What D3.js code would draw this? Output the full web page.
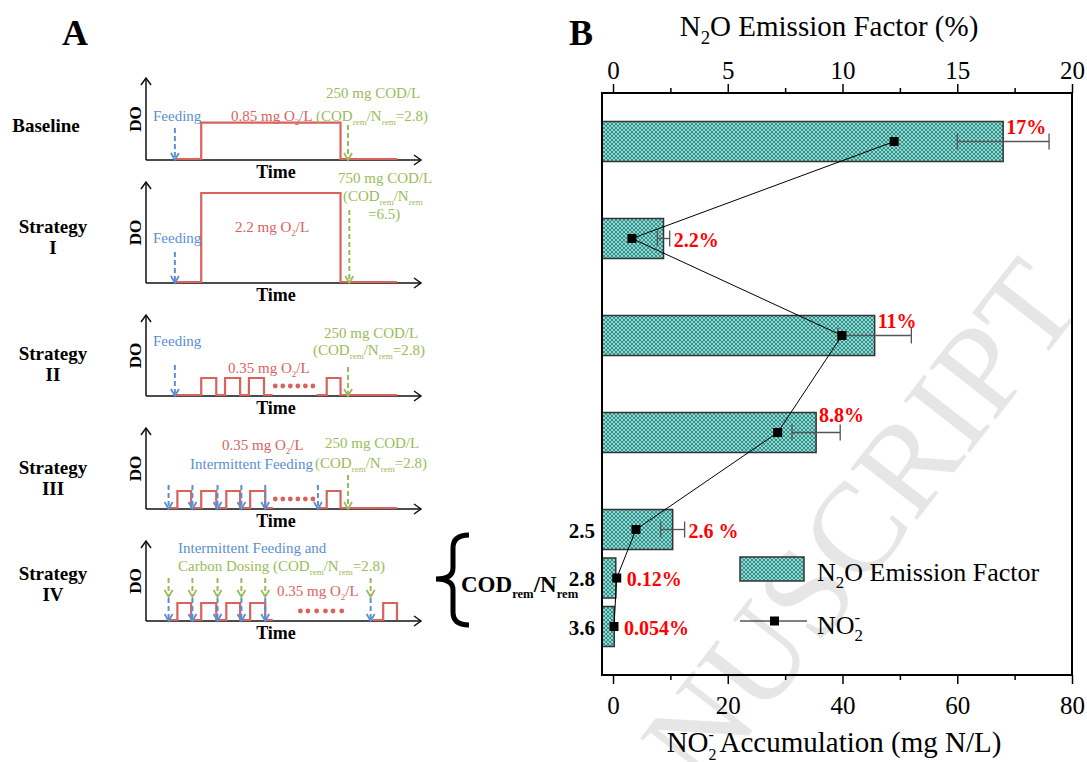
<!DOCTYPE html>
<html>
<head>
<meta charset="utf-8">
<script src="https://cdn.jsdelivr.net/npm/d3@7"></script>
<style>
  body { margin: 0; background: #fff; }
  text { font-family: "Liberation Serif", "Times New Roman", serif; }
</style>
</head>
<body>
<div class="chart"></div>
<script>
// ---------- panel B data ----------
const rowPos = [0, 1, 2, 3, 4, 4.5, 5];
const emission = [17, 2.2, 11.4, 8.85, 2.6, 0.12, 0.054];
const emissionErr = [2.0, 0.27, 1.6, 1.05, 0.52, null, null];
const no2 = [49.0, 3.3, 39.9, 28.7, 4.0, 0.65, 0.17];
const emissionLabels = ['17%', '2.2%', '11%', '8.8%', '2.6 %', '0.12%', '0.054%'];
const codRatios = ['2.5', '2.8', '3.6'];
const topTicks = [0, 5, 10, 15, 20];
const topMinor = [2.5, 7.5, 12.5, 17.5];
const bottomTicks = [0, 20, 40, 60, 80];
const bottomMinor = [10, 30, 50, 70];

// ---------- panel A data (schematic DO vs time, time 0-100) ----------
const strategyNames = [['Baseline'], ['Strategy', 'I'], ['Strategy', 'II'], ['Strategy', 'III'], ['Strategy', 'IV']];
const pulsesA = [[9,0],[12.5,0],[12.5,0.35],[18,0.35],[18,0],[22,0],[22,0.35],[28,0.35],[28,0],[32,0],[32,0.35],[37.5,0.35],[37.5,0],[41.5,0],[41.5,0.35],[47.5,0.35],[47.5,0],[50.5,0]];
const doProfiles = [
  [[[11.5,0],[22,0],[22,0.85],[77.5,0.85],[77.5,0],[100,0]]],
  [[[11.5,0],[22,0],[22,2.2],[77.5,2.2],[77.5,0],[100,0]]],
  [[[11.5,0],[22,0],[22,0.35],[28,0.35],[28,0],[31.5,0],[31.5,0.35],[37.5,0.35],[37.5,0],[41,0],[41,0.35],[47,0.35],[47,0],[50.5,0]],
   [[68,0],[72,0],[72,0.35],[77.5,0.35],[77.5,0],[100,0]]],
  [pulsesA, [[68,0],[72,0],[72,0.35],[77.5,0.35],[77.5,0],[100,0]]],
  [pulsesA, [[90.5,0],[94.5,0],[94.5,0.35],[100,0.35],[100,0]]]
];
const feedTimes = [[11.5], [11.5], [11.5], [9, 18.5, 28.5, 38, 47.5, 68.5], [9, 18.5, 28.5, 38, 47.5, 89.5]];
const carbonTimes = [[80.5], [81], [80.5], [80.5], [9, 18.5, 28.5, 38, 47.5, 89.5]];
const dotTimes = [[], [], [51.5, 54.5, 57.5, 60.5, 63.5, 66.5], [51.5, 54.5, 57.5, 60.5, 63.5, 66.5], [61.5, 64.5, 68, 71.5, 74.5, 78]];

const W = 1087, H = 762;
const RED = '#d8625c', BLUE = '#5a8fd3', GREEN = '#9bbb59';

const svg = d3.select('.chart').append('svg')
  .attr('width', W).attr('height', H)
  .style('display', 'block');
svg.append('rect').attr('width', W).attr('height', H).attr('fill', '#fff');

// rich text with _{sub} and ^{sup}
function rich(sel, str, size, subScale = 0.65) {
  const tokens = str.match(/_\{[^}]*\}|\^\{[^}]*\}|[^_^]+/g);
  let off = 0, lastSub = null;
  tokens.forEach(tok => {
    const ts = sel.append('tspan');
    if (tok[0] === '_') {
      const s = tok.slice(2, -1);
      ts.text(s).attr('font-size', size * subScale).attr('dy', size * 0.28 - off);
      off = size * 0.28; lastSub = s;
    } else if (tok[0] === '^') {
      const s = tok.slice(2, -1);
      const d = -size * 0.42;
      ts.text(s).attr('font-size', size * subScale).attr('dy', d - off);
      if (lastSub) ts.attr('dx', -size * subScale * 0.5 * lastSub.length);
      off = d; lastSub = null;
    } else {
      ts.text(tok).attr('dy', -off); off = 0; lastSub = null;
    }
  });
  return sel;
}

// watermark
svg.append('text')
  .attr('transform', 'translate(1085,305) rotate(-52)')
  .attr('text-anchor', 'end')
  .attr('font-size', 128)
  .attr('fill', '#e6e6e6')
  .text('ACCEPTED MANUSCRIPT');

// panel letters
svg.append('text').attr('x', 75).attr('y', 45).attr('text-anchor', 'middle')
  .attr('font-size', 36).attr('font-weight', 'bold').text('A');
svg.append('text').attr('x', 581).attr('y', 45).attr('text-anchor', 'middle')
  .attr('font-size', 36).attr('font-weight', 'bold').text('B');

// ================= Panel A =================
const panels = [
  {base: 160, top: 78, nameY: 132, nameX: 46, feedTop: 128, carbTop: 125},
  {base: 283, top: 182, nameY: 233, nameX: 53, feedTop: 252, carbTop: 210},
  {base: 396, top: 315, nameY: 360, nameX: 53, feedTop: 365, carbTop: 367},
  {base: 509, top: 428, nameY: 474, nameX: 53, feedTop: 485, carbTop: 475},
  {base: 621, top: 541, nameY: 580, nameX: 53, feedTop: 598, carbTop: 578}
];
const annotations = [
  [{x: 153, y: 121, c: BLUE, t: 'Feeding'},
   {x: 231, y: 121, c: RED, t: '0.85 mg O_{2}/L'},
   {x: 326, y: 98, c: GREEN, t: '250 mg COD/L'},
   {x: 316, y: 121, c: GREEN, t: '(COD_{rem}/N_{rem}=2.8)'}],
  [{x: 153, y: 243, c: BLUE, t: 'Feeding'},
   {x: 235, y: 232, c: RED, t: '2.2 mg O_{2}/L'},
   {x: 338, y: 183, c: GREEN, t: '750 mg COD/L'},
   {x: 343, y: 201, c: GREEN, t: '(COD_{rem}/N_{rem}'},
   {x: 368, y: 219, c: GREEN, t: '=6.5)'}],
  [{x: 153, y: 346, c: BLUE, t: 'Feeding'},
   {x: 228, y: 373, c: RED, t: '0.35 mg O_{2}/L'},
   {x: 324, y: 338, c: GREEN, t: '250 mg COD/L'},
   {x: 313, y: 355, c: GREEN, t: '(COD_{rem}/N_{rem}=2.8)'}],
  [{x: 222, y: 450, c: RED, t: '0.35 mg O_{2}/L'},
   {x: 190, y: 469, c: BLUE, t: 'Intermittent Feeding'},
   {x: 325, y: 448, c: GREEN, t: '250 mg COD/L'},
   {x: 315, y: 468, c: GREEN, t: '(COD_{rem}/N_{rem}=2.8)'}],
  [{x: 178, y: 553, c: BLUE, t: 'Intermittent Feeding and'},
   {x: 178, y: 571, c: GREEN, t: 'Carbon Dosing (COD_{rem}/N_{rem}=2.8)'},
   {x: 277, y: 596, c: RED, t: '0.35 mg O_{2}/L'}]
];

const tScale = d3.scaleLinear().domain([0, 100]).range([146, 397]);
const doScale = d3.scaleLinear().domain([0, 0.35, 2.2]).range([0, 17, 89]);

function dashedArrow(g, x, y1, y2, color) {
  g.append('line').attr('x1', x).attr('x2', x).attr('y1', y1).attr('y2', y2 - 2)
    .attr('stroke', color).attr('stroke-width', 2).attr('stroke-dasharray', '5,3');
  g.append('path').attr('d', `M${x - 4},${y2 - 7}L${x},${y2}L${x + 4},${y2 - 7}`)
    .attr('fill', 'none').attr('stroke', color).attr('stroke-width', 1.8);
}

panels.forEach((p, i) => {
  const g = svg.append('g');
  // axes with arrow heads
  g.append('line').attr('x1', 146).attr('x2', 146).attr('y1', p.top).attr('y2', p.base)
    .attr('stroke', '#111').attr('stroke-width', 1.5);
  g.append('line').attr('x1', 146).attr('x2', 421).attr('y1', p.base).attr('y2', p.base)
    .attr('stroke', '#111').attr('stroke-width', 1.5);
  g.append('path').attr('d', `M141,${p.top + 7}L146,${p.top}L151,${p.top + 7}`)
    .attr('fill', 'none').attr('stroke', '#111').attr('stroke-width', 1.5);
  g.append('path').attr('d', `M414,${p.base - 5}L421,${p.base}L414,${p.base + 5}`)
    .attr('fill', 'none').attr('stroke', '#111').attr('stroke-width', 1.5);

  // DO / Time labels
  g.append('text').attr('transform', `translate(141,${(p.top + p.base) / 2}) rotate(-90)`)
    .attr('text-anchor', 'middle').attr('font-size', 17).attr('font-weight', 'bold').text('DO');
  g.append('text').attr('x', 276).attr('y', p.base + 18).attr('text-anchor', 'middle')
    .attr('font-size', 18).attr('font-weight', 'bold').text('Time');

  // strategy name
  strategyNames[i].forEach((s, k) => {
    g.append('text').attr('x', p.nameX).attr('y', p.nameY + k * 20.5).attr('text-anchor', 'middle')
      .attr('font-size', 19).attr('font-weight', 'bold').text(s);
  });

  // DO profile
  const line = d3.line().x(d => tScale(d[0])).y(d => p.base - 1 - doScale(d[1]));
  doProfiles[i].forEach(seg => {
    g.append('path').attr('d', line(seg)).attr('fill', 'none')
      .attr('stroke', RED).attr('stroke-width', 2.2);
  });
  g.selectAll('.dot').data(dotTimes[i]).enter().append('circle')
    .attr('cx', d => tScale(d)).attr('cy', p.base - 10).attr('r', 2.4).attr('fill', RED);

  // feeding / carbon arrows
  if (i < 4) {
    feedTimes[i].forEach(t => dashedArrow(g, tScale(t), p.feedTop, p.base, BLUE));
    carbonTimes[i].forEach(t => dashedArrow(g, tScale(t), p.carbTop, p.base, GREEN));
  } else {
    carbonTimes[i].forEach(t => dashedArrow(g, tScale(t), p.carbTop, p.feedTop - 1, GREEN));
    feedTimes[i].forEach(t => dashedArrow(g, tScale(t), p.feedTop, p.base, BLUE));
  }

  annotations[i].forEach(a => {
    rich(g.append('text').attr('x', a.x).attr('y', a.y).attr('font-size', 15).attr('fill', a.c), a.t, 15, 0.6);
  });
});

// brace + COD/N label
svg.append('path')
  .attr('d', 'M469,535 Q453,535 453,548 L453,568 Q453,579 436,579 Q453,579 453,590 L453,612 Q453,625 469,625')
  .attr('fill', 'none').attr('stroke', '#000').attr('stroke-width', 5);
rich(svg.append('text').attr('x', 461).attr('y', 592).attr('font-size', 23).attr('font-weight', 'bold'),
  'COD_{rem}/N_{rem}', 23, 0.55);

// ================= Panel B =================
const pLeft = 602, pRight = 1072, pTop = 93, pBottom = 675;
const xE = d3.scaleLinear().domain([-0.48, 20]).range([pLeft, pRight]);
const xN = d3.scaleLinear().domain([-1.92, 80]).range([pLeft, pRight]);
const yR = d3.scaleLinear().domain([-0.5, 5.5]).range([pTop, pBottom]);
const barH = 40;

const defs = svg.append('defs');
const pat = defs.append('pattern').attr('id', 'hatch')
  .attr('patternUnits', 'userSpaceOnUse').attr('width', 4).attr('height', 4);
pat.append('rect').attr('width', 4).attr('height', 4).attr('fill', '#fff');
pat.append('path').attr('d', 'M0,0L4,4M4,0L0,4M-1,3L1,5M3,-1L5,1M-1,1L1,-1M3,5L5,3')
  .attr('stroke', '#23968e').attr('stroke-width', 1.3);

const rows = emission.map((e, i) => ({e, err: emissionErr[i], n: no2[i], pos: rowPos[i], lab: emissionLabels[i]}));

// bars
svg.selectAll('.bar').data(rows).enter().append('rect')
  .attr('x', xE(-0.48))
  .attr('y', d => yR(d.pos) - barH / 2)
  .attr('width', d => xE(d.e) - xE(-0.48))
  .attr('height', barH)
  .attr('fill', 'url(#hatch)')
  .attr('stroke', '#333').attr('stroke-width', 1.5);

// error bars
const errRows = rows.filter(d => d.err != null);
const eg = svg.append('g').attr('stroke', '#555').attr('stroke-width', 1.3);
errRows.forEach(d => {
  const y = yR(d.pos);
  eg.append('line').attr('x1', xE(d.e - d.err)).attr('x2', xE(d.e + d.err)).attr('y1', y).attr('y2', y);
  [d.e - d.err, d.e + d.err].forEach(v => {
    eg.append('line').attr('x1', xE(v)).attr('x2', xE(v)).attr('y1', y - 8).attr('y2', y + 8);
  });
});

// NO2 line + squares
svg.append('path').datum(rows)
  .attr('d', d3.line().x(d => xN(d.n)).y(d => yR(d.pos)))
  .attr('fill', 'none').attr('stroke', '#000').attr('stroke-width', 1);
svg.selectAll('.sq').data(rows).enter().append('rect')
  .attr('x', d => xN(d.n) - 4.5).attr('y', d => yR(d.pos) - 4.5)
  .attr('width', 9).attr('height', 9).attr('fill', '#000');

// value labels
const labelAbove = [true, false, true, true, false, false, false];
svg.selectAll('.vlab').data(rows).enter().append('text')
  .attr('x', (d, i) => labelAbove[i] ? xE(d.e) + 3 : (d.err != null ? xE(d.e + d.err) + 4 : xN(d.n) + 10))
  .attr('y', (d, i) => yR(d.pos) + (labelAbove[i] ? (i === 3 ? -11 : -8) : 8))
  .attr('font-size', 20).attr('font-weight', 'bold').attr('fill', '#ff0000')
  .text(d => d.lab);

// frame
svg.append('rect').attr('x', pLeft).attr('y', pTop).attr('width', pRight - pLeft).attr('height', pBottom - pTop)
  .attr('fill', 'none').attr('stroke', '#000').attr('stroke-width', 2);

// axes
svg.append('g').attr('transform', `translate(0,${pTop})`)
  .call(d3.axisTop(xE).tickValues(topTicks).tickSize(9).tickPadding(5));
svg.append('g').attr('transform', `translate(0,${pTop})`)
  .call(d3.axisTop(xE).tickValues(topMinor).tickSize(5).tickFormat(''));
svg.append('g').attr('transform', `translate(0,${pBottom})`)
  .call(d3.axisBottom(xN).tickValues(bottomTicks).tickSize(9).tickPadding(12));
svg.append('g').attr('transform', `translate(0,${pBottom})`)
  .call(d3.axisBottom(xN).tickValues(bottomMinor).tickSize(5).tickFormat(''));
svg.selectAll('.domain').remove();
svg.selectAll('.tick line').attr('stroke', '#000').attr('stroke-width', 1.5);
svg.selectAll('.tick text').attr('font-family', '"Liberation Serif", serif').attr('font-size', 25).attr('fill', '#000');

// axis titles
rich(svg.append('text').attr('x', 829).attr('y', 36).attr('text-anchor', 'middle').attr('font-size', 29),
  'N_{2}O Emission Factor (%)', 29);
rich(svg.append('text').attr('x', 834).attr('y', 752).attr('text-anchor', 'middle').attr('font-size', 29),
  'NO_{2}^{-} Accumulation (mg N/L)', 29, 0.55);

// COD ratio row labels
svg.selectAll('.rlab').data(codRatios).enter().append('text')
  .attr('x', 595).attr('y', (d, i) => yR(rowPos[4 + i]) + 8)
  .attr('text-anchor', 'end').attr('font-size', 21).attr('font-weight', 'bold')
  .text(d => d);

// legend
svg.append('rect').attr('x', 740).attr('y', 557).attr('width', 64).attr('height', 24)
  .attr('fill', 'url(#hatch)').attr('stroke', '#333').attr('stroke-width', 1.5);
rich(svg.append('text').attr('x', 817).attr('y', 581).attr('font-size', 26), 'N_{2}O Emission Factor', 26);
svg.append('line').attr('x1', 740).attr('x2', 807).attr('y1', 621).attr('y2', 621)
  .attr('stroke', '#000').attr('stroke-width', 1);
svg.append('rect').attr('x', 770).attr('y', 616.5).attr('width', 9).attr('height', 9).attr('fill', '#000');
rich(svg.append('text').attr('x', 817).attr('y', 634).attr('font-size', 26), 'NO_{2}^{-}', 26);
</script>
</body>
</html>
